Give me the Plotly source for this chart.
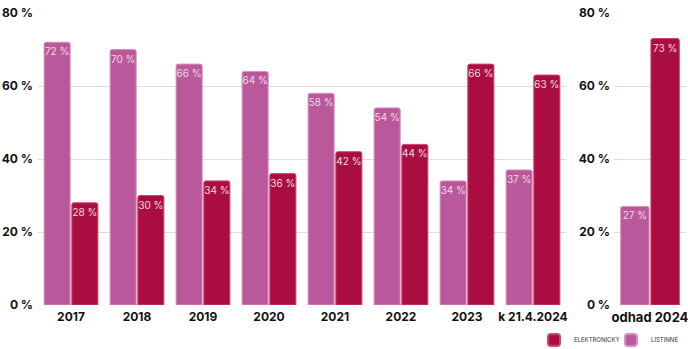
import plotly.graph_objects as go

# Share of submissions by form, per year (percent)
years = ["2017", "2018", "2019", "2020", "2021", "2022", "2023", "k 21.4.2024"]
listinne = [72, 70, 66, 64, 58, 54, 34, 37]
elektronicky = [28, 30, 34, 36, 42, 44, 66, 63]

estimate_cat = ["odhad 2024"]
estimate_listinne = [27]
estimate_elektronicky = [73]

y_ticks = [0, 20, 40, 60, 80]
y_tick_text = [f"{v} %" for v in y_ticks]

C_LIST = "#B9599B"
C_ELEK = "#AA0E41"
C_LIST_EDGE = "#D98FC0"
C_ELEK_EDGE = "#C8486E"
LABEL_COLOR = "#F6D6E6"
FONT = "Inter"

fig = go.Figure()


def add_pair(x, lst, elk, xa, ya, show):
    for name, vals, col, edge, rank in (
        ("LISTINNÉ", lst, C_LIST, C_LIST_EDGE, 2),
        ("ELEKTRONICKÝ", elk, C_ELEK, C_ELEK_EDGE, 1),
    ):
        fig.add_trace(go.Bar(
            x=x, y=vals, name=name, xaxis=xa, yaxis=ya,
            marker=dict(color=col, line=dict(color=edge, width=1)),
            text=[f"{v} %" for v in vals], textposition="inside",
            insidetextanchor="end", textangle=0, constraintext="none",
            textfont=dict(family=FONT, size=10, color=LABEL_COLOR),
            showlegend=show, legendrank=rank,
        ))


add_pair(years, listinne, elektronicky, "x", "y", True)
add_pair(estimate_cat, estimate_listinne, estimate_elektronicky, "x2", "y2", False)

W, H = 688, 349
axis_common = dict(
    range=[0, 80], tickvals=y_ticks, ticktext=y_tick_text,
    showgrid=True, gridcolor="#DDDDDD", gridwidth=1,
    zeroline=False, showline=False, ticks="", automargin=False,
    tickfont=dict(family=FONT, size=12, color="#111111", weight="bold"),
)
xaxis_common = dict(showgrid=False, zeroline=False, showline=False,
                    ticks="", automargin=False, ticklabelstandoff=3)

fig.update_layout(
    width=W, height=H,
    margin=dict(l=0, r=0, t=13, b=44),
    paper_bgcolor="white", plot_bgcolor="white",
    barmode="group", bargap=0.16, bargroupgap=0.06,
    barcornerradius=2,
    xaxis=dict(domain=[38 / W, 566 / W], anchor="y",
               tickfont=dict(family=FONT, size=12, color="#111111", weight="bold"),
               **xaxis_common),
    yaxis=dict(anchor="x", ticklabelstandoff=4, **axis_common),
    xaxis2=dict(domain=[614 / W, 686 / W], anchor="y2",
                tickfont=dict(family=FONT, size=13, color="#111111", weight="bold"),
                **xaxis_common),
    yaxis2=dict(anchor="x2", ticklabelstandoff=3, **axis_common),
    legend=dict(orientation="h", xref="container", x=1.0, xanchor="right",
                yref="container", y=0.026, yanchor="middle",
                font=dict(family=FONT, size=6, color="#333333"),
                itemsizing="constant", itemwidth=30,
                entrywidth=32, entrywidthmode="pixels",
                traceorder="normal", bgcolor="rgba(0,0,0,0)"),
    font=dict(family=FONT),
)

fig.write_html("out.html")
